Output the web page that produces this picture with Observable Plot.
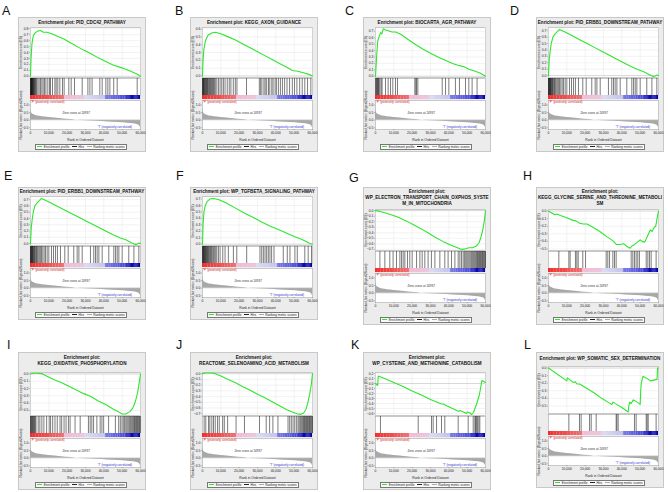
<!DOCTYPE html>
<html><head><meta charset="utf-8">
<script src="https://cdn.jsdelivr.net/npm/d3@7"></script>
<script src="https://cdn.jsdelivr.net/npm/@observablehq/plot@0.6"></script>
<style>
body{margin:0;background:#fff;font-family:Arial,"Liberation Sans",sans-serif;}
#root{position:relative;width:668px;height:492px;overflow:hidden;background:#fff;}
.lab{position:absolute;font-size:12.5px;line-height:13px;color:#111;}
.box{position:absolute;background:#ececec;border:0.6px solid #c8c8c8;box-sizing:border-box;}
.ttl{position:absolute;font-weight:bold;font-size:4.6px;line-height:6px;text-align:center;color:#111;white-space:nowrap;}
.part{position:absolute;}
.leg{position:absolute;background:#fafafa;border:0.6px solid #777;box-sizing:border-box;font-size:3.2px;line-height:5px;display:flex;align-items:center;justify-content:space-around;white-space:nowrap;color:#222;}
.sw{display:inline-block;width:5px;height:0;border-top:0.8px solid;vertical-align:middle;margin-right:1.5px;}
</style></head>
<body><div id="root"></div>
<script>
// ---------- data ----------
const xTicks = [0,10000,20000,30000,40000,50000,60000];
const xTickLabels = ["0","10,000","20,000","30,000","40,000","50,000","60,000"];

const letters = ["A","B","C","D","E","F","G","H","I","J","K","L"];
const titles = [
  ["Enrichment plot: PID_CDC42_PATHWAY"],
  ["Enrichment plot: KEGG_AXON_GUIDANCE"],
  ["Enrichment plot: BIOCARTA_AGR_PATHWAY"],
  ["Enrichment plot: PID_ERBB1_DOWNSTREAM_PATHWAY"],
  ["Enrichment plot: PID_ERBB1_DOWNSTREAM_PATHWAY"],
  ["Enrichment plot: WP_TGFBETA_SIGNALING_PATHWAY"],
  ["Enrichment plot:","WP_ELECTRON_TRANSPORT_CHAIN_OXPHOS_SYSTE","M_IN_MITOCHONDRIA"],
  ["Enrichment plot:","KEGG_GLYCINE_SERINE_AND_THREONINE_METABOLI","SM"],
  ["Enrichment plot:","KEGG_OXIDATIVE_PHOSPHORYLATION"],
  ["Enrichment plot:","REACTOME_SELENOAMINO_ACID_METABOLISM"],
  ["Enrichment plot:","WP_CYSTEINE_AND_METHIONINE_CATABOLISM"],
  ["Enrichment plot: WP_SOMATIC_SEX_DETERMINATION"]
];

// running enrichment score [rank, ES]
const esA = [[0,0],[300,0.3],[800,0.55],[1500,0.68],[2500,0.73],[4000,0.76],[5500,0.77],[7000,0.74],[9000,0.74],[12000,0.71],[15000,0.67],[18000,0.63],[22000,0.56],[26000,0.49],[29000,0.44],[33000,0.38],[37000,0.31],[41000,0.25],[45000,0.19],[49000,0.15],[52000,0.12],[55000,0.08],[58000,0.04],[60000,0]];
const esB = [[0,0],[300,0.2],[800,0.35],[1600,0.45],[3000,0.52],[5000,0.55],[7000,0.56],[10000,0.54],[14000,0.5],[18000,0.46],[22000,0.41],[26000,0.36],[30000,0.31],[34000,0.26],[38000,0.21],[42000,0.16],[46000,0.11],[49000,0.07],[52000,0.06],[55000,0.04],[58000,0.02],[60000,0]];
const esC = [[0,0],[200,0.1],[600,0.3],[1200,0.55],[2000,0.62],[2800,0.68],[3500,0.66],[4200,0.74],[5500,0.72],[7000,0.71],[9000,0.69],[11000,0.69],[14000,0.65],[18000,0.57],[22000,0.49],[26000,0.42],[30000,0.36],[34000,0.3],[38000,0.25],[42000,0.2],[45000,0.17],[48000,0.15],[51000,0.11],[54000,0.08],[57000,0.05],[60000,0]];
const esD = [[0,0],[400,0.25],[900,0.38],[1500,0.5],[2400,0.6],[3600,0.65],[5000,0.69],[6000,0.72],[9000,0.68],[13000,0.62],[17000,0.56],[21000,0.5],[25000,0.44],[29000,0.38],[33000,0.32],[37000,0.26],[41000,0.2],[45000,0.14],[49000,0.09],[52000,0.06],[54000,0.03],[56000,0.0],[57500,-0.02],[58500,0.0],[59200,0.01],[60000,0]];
const esE = esD;
const esF = [[0,0],[300,0.3],[800,0.5],[1500,0.6],[2500,0.66],[4000,0.7],[6000,0.71],[9000,0.69],[13000,0.64],[18000,0.56],[23000,0.48],[28000,0.41],[32000,0.35],[37000,0.28],[42000,0.22],[46000,0.17],[50000,0.12],[53000,0.09],[56000,0.05],[58000,0.02],[60000,0]];
const esG = [[0,0],[2000,-0.01],[5000,-0.04],[9000,-0.08],[13000,-0.13],[17000,-0.19],[21000,-0.26],[25000,-0.33],[29000,-0.41],[33000,-0.49],[37000,-0.56],[41000,-0.62],[44000,-0.66],[46000,-0.69],[47500,-0.7],[49000,-0.69],[51000,-0.67],[53000,-0.67],[55000,-0.64],[56500,-0.58],[57500,-0.48],[58500,-0.35],[59300,-0.2],[60000,0]];
const esH = [[0,0],[3500,-0.05],[4500,-0.04],[6500,-0.06],[10000,-0.09],[13000,-0.12],[15000,-0.13],[17000,-0.16],[19000,-0.17],[21000,-0.17],[24000,-0.21],[28000,-0.27],[32000,-0.34],[35000,-0.39],[37000,-0.44],[39000,-0.44],[41000,-0.43],[43000,-0.47],[44500,-0.49],[45500,-0.46],[47000,-0.44],[48500,-0.41],[50000,-0.38],[51000,-0.4],[52500,-0.41],[54000,-0.33],[55500,-0.25],[56500,-0.27],[57500,-0.22],[58500,-0.2],[59200,-0.1],[60000,0]];
const esI = [[0,0],[1500,0.01],[3500,0.01],[6000,0.005],[9000,-0.03],[13000,-0.08],[17000,-0.12],[21000,-0.17],[25000,-0.22],[29000,-0.27],[33000,-0.31],[37000,-0.37],[41000,-0.42],[45000,-0.48],[48000,-0.52],[50000,-0.55],[52000,-0.55],[54000,-0.52],[55500,-0.48],[56500,-0.43],[57500,-0.35],[58500,-0.25],[59300,-0.12],[60000,0]];
const esJ = [[0,0],[1500,0.01],[5000,0.01],[7000,0.0],[10000,-0.04],[14000,-0.1],[18000,-0.16],[22000,-0.23],[26000,-0.29],[30000,-0.36],[34000,-0.42],[38000,-0.49],[42000,-0.56],[46000,-0.63],[49000,-0.67],[51500,-0.7],[53500,-0.71],[55000,-0.69],[56500,-0.62],[57500,-0.5],[58500,-0.35],[59300,-0.2],[60000,0]];
const esK = [[0,0],[1200,-0.04],[1500,0.15],[5000,0.1],[10000,0.02],[15000,-0.06],[20000,-0.15],[25000,-0.23],[30000,-0.32],[34000,-0.38],[36000,-0.41],[37000,-0.41],[38500,-0.44],[42000,-0.5],[45500,-0.56],[46000,-0.54],[48500,-0.58],[49500,-0.6],[50000,-0.57],[51500,-0.59],[52500,-0.62],[53500,-0.58],[54200,-0.5],[55000,-0.43],[55800,-0.33],[56500,-0.25],[57200,-0.12],[58000,0.06],[59000,0.04],[60000,0.02]];
const esL = [[0,0],[10000,-0.17],[10300,-0.13],[13500,-0.19],[14500,-0.18],[15500,-0.21],[17000,-0.21],[21000,-0.27],[25000,-0.33],[29000,-0.4],[33000,-0.46],[34500,-0.48],[35200,-0.45],[36500,-0.47],[40000,-0.52],[43500,-0.58],[43800,-0.5],[44300,-0.45],[45000,-0.47],[46300,-0.42],[49000,-0.46],[50000,-0.48],[50300,-0.3],[50600,-0.2],[51500,-0.11],[54500,-0.15],[55500,-0.17],[59200,-0.15],[59500,0],[60000,0]];

// gene-set hit positions (rank)
const hitsA = [50,150,250,350,450,600,750,900,1050,1200,1400,1600,1800,2050,2300,2600,2900,3300,4000,4700,5450,6200,6900,7650,8400,9450,10400,10900,12000,13300,14000,14900,16000,17450,18350,20900,22200,24000,28200,31300,32400,33600,37800,39100,41100,42200,43300,45400,47300,58200];
const hitsB = [0,200,400,600,800,1000,1300,1600,1900,2200,2500,2800,3100,3500,3900,4300,4700,5100,5500,6000,6500,7000,7800,8700,9600,10500,11400,12300,13500,14600,15500,16800,17900,18800,24000,31000,31700,32400,33500,34200,35000,36000,36700,37800,38500,39600,40300,41400,42500,43600,44800,46100,47500,49000,50200,51500,53000,54400,55800,57300,59100];
const hitsC = [100,400,700,1000,1300,1600,1900,2400,3100,3600,5450,6900,8200,9450,10900,12000,21450,22000,22400,23100,36400,38200,40000,43600,45800,49100,50900,52700,55400];
const hitsD = [0,150,300,500,700,900,1100,1300,1600,1900,2200,2500,2900,3300,3700,4200,4800,5400,6000,6700,7450,8200,9100,10000,11450,12550,13650,14700,16350,18700,20550,23600,25450,26400,28200,32700,34500,35450,36350,37300,39100,42700,45450,46400,47300,48200,50000,53600,56400,59100];
const hitsE = hitsD;
const hitsF = [0,200,400,600,800,1000,1250,1500,1750,2000,2300,2600,2900,3200,3600,4000,4400,4900,5400,6000,6600,7200,7800,8700,9600,11050,12300,14100,16850,18700,24100,31350,32300,33200,34100,35000,35900,36800,37700,39000,44050,46250,47700,50400,51700,55800,57650,59450];
const hitsG = [2400,5100,7800,9600,11450,13300,14200,15100,16000,17450,18700,20000,22400,24200,25450,26900,28700,30500,32400,35100,37800,39600,41450,43300,45100,46000,46900,47800,48500,49200,49800,50400,51000,51600,52200,52700,53200,53700,54200,54700,55200,55600,56000,56400,56800,57200,57600,58000,58400,58800,59200,59600,60000];
const hitsH = [5650,11100,11800,14700,15450,16200,18700,20200,31450,32350,33300,35100,36000,36900,45100,46000,46900,47800,48700,49600,53300,54200,55100,56000,58700];
const hitsI = [0,300,600,900,1200,1500,1800,2200,2600,3000,4200,5100,6200,7300,8800,10200,10950,12100,13350,14600,16100,17000,18300,19400,20700,21600,24300,27100,31600,32550,33450,34400,36200,38000,38950,39900,42600,46300,48100,49000,49900,50600,51300,52000,52600,53200,53800,54300,54800,55300,55800,56300,56700,57100,57500,57900,58300,58700,59100,59500,59900];
const hitsJ = [900,1800,3300,4000,5100,6000,6950,8200,9150,11000,11900,13700,18300,22900,31100,34750,36600,38400,41150,46650,47550,48450,49400,50300,51200,52100,52700,53300,53800,54300,54800,55200,55600,56000,56400,56800,57200,57600,58000,58400,58800,59200,59600,60000];
const hitsK = [2700,23300,30550,31450,33300,36000,37800,45100,50550,53300,54200,54550,55100,55650,56350,56900];
const hitsL = [11100,16900,17800,22400,23300,26000,36900,37300,38000,46900,47800,53300,53800,54400,58700];

// ranked list metric (Signal2Noise), shared by all panels
const metricRank = [0,300,1000,2500,5000,8000,12000,17000,22000,24937,30000,36000,42000,48000,53000,56000,58000,59300,60000];
const metricVal  = [0.75,0.55,0.42,0.33,0.26,0.2,0.15,0.1,0.04,0,-0.04,-0.08,-0.12,-0.16,-0.2,-0.24,-0.29,-0.36,-0.5];

// colour bar stops (rank, colour)
const barRank  = [0,18500,18500,29500,29500,41000,41000,52500,52500,60000];
const barColor = ["#f42a2a","#f07070","#f3b8d6","#ecc4dc","#dcdcf4","#c0c0ee","#7a7aea","#4848dc","#1010c0","#0000a8"];

const esDomains = [[-0.02,0.82],[-0.02,0.62],[-0.02,0.76],[-0.03,0.75],[-0.03,0.75],[-0.02,0.74],[-0.72,0.02],[-0.52,0.02],[-0.57,0.02],[-0.73,0.02],[-0.64,0.22],[-0.6,0.02]];
const esTicks = [
  [0,.1,.2,.3,.4,.5,.6,.7,.8],[0,.1,.2,.3,.4,.5,.6],[0,.1,.2,.3,.4,.5,.6,.7],[0,.1,.2,.3,.4,.5,.6,.7],[0,.1,.2,.3,.4,.5,.6,.7],[0,.1,.2,.3,.4,.5,.6,.7],
  [0,-.1,-.2,-.3,-.4,-.5,-.6,-.7],[0,-.1,-.2,-.3,-.4,-.5],[0,-.1,-.2,-.3,-.4,-.5],[0,-.1,-.2,-.3,-.4,-.5,-.6,-.7],[.2,.1,0,-.1,-.2,-.3,-.4,-.5,-.6],[0,-.1,-.2,-.3,-.4,-.5]
];
const esData = [esA,esB,esC,esD,esE,esF,esG,esH,esI,esJ,esK,esL];
const hitData = [hitsA,hitsB,hitsC,hitsD,hitsE,hitsF,hitsG,hitsH,hitsI,hitsJ,hitsK,hitsL];

// ---------- layout (pixels) ----------
const colPX = [30,202,375,548];
const layout = [
  {lx:2,ly:5,top:17,tt:20,esTop:27,esBot:77},
  {lx:175,ly:5,top:17,tt:20,esTop:27,esBot:77},
  {lx:345,ly:5,top:17,tt:20,esTop:27,esBot:77},
  {lx:510,ly:5,top:17,tt:20,esTop:27,esBot:77},
  {lx:4,ly:170,top:187,tt:189,esTop:196,esBot:245},
  {lx:176,ly:170,top:187,tt:189,esTop:196,esBot:245},
  {lx:349,ly:172,top:187,tt:189,esTop:209,esBot:250},
  {lx:523,ly:170,top:187,tt:189,esTop:209,esBot:250},
  {lx:7,ly:339,top:352,tt:355,esTop:372,esBot:415},
  {lx:176,ly:339,top:352,tt:355,esTop:372,esBot:415},
  {lx:351,ly:339,top:352,tt:355,esTop:372,esBot:415},
  {lx:524,ly:339,top:352,tt:356,esTop:366,esBot:413}
];

const PW = 110, ML = 12, MR = 4;
const fontStyle = {fontSize:"3.3px", fontFamily:"Arial, Liberation Sans, sans-serif", background:"transparent", overflow:"visible", color:"#222"};
const root = document.getElementById("root");
function place(el, x, y){ el.classList.add("part"); el.style.left = x+"px"; el.style.top = y+"px"; root.appendChild(el); return el; }

const metric = metricRank.map((r,i)=>({r, v:metricVal[i]}));
const bar = [];
for (let i=0;i<barRank.length;i+=2){
  const n = 12, r0=barRank[i], r1=barRank[i+1];
  const ip = d3.interpolateRgb(barColor[i], barColor[i+1]);
  for (let k=0;k<n;k++) bar.push({x1:r0+(r1-r0)*k/n, x2:r0+(r1-r0)*(k+1)/n+30, c:ip((k+0.5)/n)});
}

letters.forEach((k,i)=>{
  const L = layout[i], px = colPX[i%4];
  const row = Math.floor(i/4);
  const b = L.esBot;
  // panel letter
  const lab = document.createElement("div"); lab.className="lab"; lab.textContent=k;
  lab.style.left=L.lx+"px"; lab.style.top=L.ly+"px"; root.appendChild(lab);
  // grey panel box
  const box = document.createElement("div"); box.className="box";
  box.style.left=(px-12)+"px"; box.style.top=L.top+"px"; box.style.width="128px"; box.style.height=(b+75-L.top)+"px";
  root.appendChild(box);
  // title
  const t = document.createElement("div"); t.className="ttl";
  t.innerHTML = titles[i].join("<br>");
  t.style.left=(px-22)+"px"; t.style.top=L.tt+"px"; t.style.width="148px";
  root.appendChild(t);

  // ES plot
  const esH = b - L.esTop;
  const es = esData[i].map(([r,v])=>({r,v}));
  const p1 = Plot.plot({
    width: PW+ML+MR, height: esH+4, marginLeft: ML, marginRight: MR, marginTop: 2, marginBottom: 2,
    style: fontStyle,
    x: {domain:[0,60000], axis:null},
    y: {domain: esDomains[i]},
    marks: [
      Plot.frame({fill:"white", stroke:"#9a9a9a", strokeWidth:0.5}),
      Plot.gridY(esTicks[i], {stroke:"#e0e0e0", strokeOpacity:1, strokeWidth:0.4}),
      Plot.gridX(xTicks, {stroke:"#e0e0e0", strokeOpacity:1, strokeWidth:0.4}),
      Plot.ruleY([0], {stroke:"#b0b0b0", strokeWidth:0.4}),
      Plot.line(es, {x:"r", y:"v", stroke:"#2ee62e", strokeWidth:1.1}),
      Plot.axisY(esTicks[i], {tickSize:1.2, tickPadding:1, tickFormat:d3.format(".1f"), label:"Enrichment score (ES)", labelAnchor:"center", labelArrow:"none", labelOffset:10.5, stroke:"#666", strokeWidth:0.4})
    ]
  });
  place(p1, px-ML, L.esTop-2);

  // hits
  const p2 = Plot.plot({
    width: PW+ML+MR, height: 17, marginLeft: ML, marginRight: MR, marginTop: 0, marginBottom: 0,
    style: fontStyle,
    x: {domain:[0,60000], axis:null}, y:{domain:[0,1], axis:null},
    marks: [
      Plot.frame({fill:"white", stroke:"#9a9a9a", strokeWidth:0.5}),
      Plot.ruleX(hitData[i], {stroke:"#111", strokeWidth:0.55, y1:0, y2:1})
    ]
  });
  place(p2, px-ML, b+1);

  // colour bar
  const p3 = Plot.plot({
    width: PW+ML+MR, height: 4, marginLeft: ML, marginRight: MR, marginTop: 0, marginBottom: 0,
    style: fontStyle,
    x: {domain:[0,60000], axis:null}, y:{domain:[0,1], axis:null},
    marks: [
      Plot.rect(bar, {x1:"x1", x2:"x2", y1:0, y2:1, fill:"c", inset:0})
    ]
  });
  place(p3, px-ML, b+18);

  // ranked list metric
  const p4 = Plot.plot({
    width: PW+ML+MR, height: 29+16, marginLeft: ML, marginRight: MR, marginTop: 0, marginBottom: 16,
    style: fontStyle,
    x: {domain:[0,60000]},
    y: {domain:[-0.62,1.3]},
    marks: [
      Plot.frame({fill:"white", stroke:"#9a9a9a", strokeWidth:0.5}),
      Plot.areaY(metric, {x:"r", y:"v", fill:"#a8a8a8", curve:"monotone-x"}),
      Plot.ruleY([0], {stroke:"#c8c8c8", strokeWidth:0.4}),
      Plot.text(["'P' (positively correlated)"], {x:300, y:1.22, text:d=>d, textAnchor:"start", fill:"#e02020", fontSize:3.1}),
      Plot.text(["Zero cross at 24937"], {x:24937, y:0.45, text:d=>d, fill:"#333", fontSize:3.1}),
      Plot.text(["'T' (negatively correlated)"], {x:46000, y:-0.45, text:d=>d, fill:"#3030d0", fontSize:3.1}),
      Plot.axisY([1.0,0.5,0.0,-0.5], {tickSize:1.2, tickPadding:1, tickFormat:d3.format(".1f"), label:"Ranked list metric (Signal2Noise)", labelAnchor:"center", labelArrow:"none", labelOffset:10.5, stroke:"#666", strokeWidth:0.4}),
      Plot.axisX(xTicks, {tickSize:1.2, tickPadding:1, tickFormat:(d,j)=>xTickLabels[j], label:"Rank in Ordered Dataset", labelAnchor:"center", labelArrow:"none", labelOffset:11, stroke:"#666", strokeWidth:0.4})
    ]
  });
  place(p4, px-ML, b+23);

  // legend
  const lg = document.createElement("div"); lg.className="leg";
  lg.innerHTML = '<span><span class="sw" style="border-color:#2ee62e"></span>Enrichment profile</span><span><span class="sw" style="border-color:#222"></span>Hits</span><span><span class="sw" style="border-color:#aaa"></span>Ranking metric scores</span>';
  lg.style.left=(px+5)+"px"; lg.style.top=(b+67)+"px"; lg.style.width="92px"; lg.style.height="6px";
  root.appendChild(lg);
});
</script>
</body></html>
